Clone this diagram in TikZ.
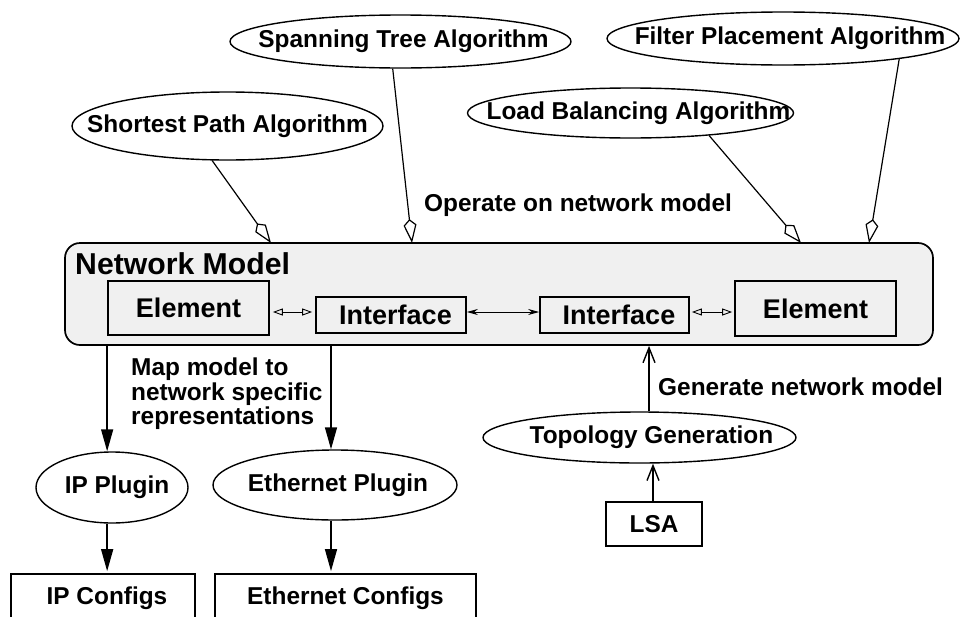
\documentclass[tikz,border=0pt]{standalone}
\usepackage{fontspec}
\setmainfont{Liberation Sans}
\usetikzlibrary{arrows.meta,shapes.geometric}
% text of zero width, so the ellipse is sized only by its minimum size;
% the optional kern shifts the text to the right by half its value
\newcommand\zw[2][0pt]{\makebox[0pt]{\kern#1\relax #2}}
\begin{document}
\begin{tikzpicture}[x=1pt,y=-1pt,
  txt/.style={font=\fontsize{24.4}{24.5}\selectfont\bfseries, inner sep=0pt},
  algo/.style={ellipse, draw, line width=1.4pt, fill=white, txt},
  box/.style={rectangle, draw, line width=1.7pt, txt},
  part/.style={rectangle, draw, line width=1.7pt, inner sep=0pt,
    font=\fontsize{27}{27}\selectfont\bfseries},
  model/.style={rectangle, draw, line width=1.7pt, rounded corners=15pt,
    fill=black!6, minimum width=868, minimum height=102},
  title/.style={font=\fontsize{30.2}{30}\selectfont\bfseries, inner sep=0pt},
  diam/.style={line width=1.2pt, -{Kite[open, length=24pt, width=13pt, inset=6pt, line width=1.2pt]}},
  hollow/.style={line width=0.9pt,
    {Triangle[open, length=10pt, width=7pt]}-{Triangle[open, length=10pt, width=7pt]}},
  solid/.style={line width=1pt,
    {Stealth[length=11pt, width=6pt]}-{Stealth[length=11pt, width=6pt]}},
  down/.style={line width=1.4pt, -{Triangle[length=22pt, width=12pt]}},
  up/.style={line width=1.4pt, -{Straight Barb[length=15pt, width=12pt, line width=1.4pt]}},
]
\useasboundingbox (0,0) rectangle (966,616);
\clip (0,0) rectangle (966,616);

% network model container with its parts
\node[model] (nm) at (499,294) {};
\node[title, anchor=base west] (nmt) at (75,274) {Network Model};
\node[part, minimum width=161, minimum height=54] (el1) at (188.5,308) {Element};
\node[part, minimum width=150, minimum height=36] (if1) at (391,315) {\kern9pt Interface};
\node[part, minimum width=149, minimum height=36] (if2) at (614.5,315) {\kern9pt Interface};
\node[part, minimum width=161, minimum height=55] (el2) at (815.5,308.5) {Element};

% algorithms
\node[algo, minimum width=311, minimum height=68] (sp) at (227.5,126) {\zw{Shortest Path Algorithm}};
\node[algo, minimum width=341, minimum height=53] (st) at (400.5,41.5) {\zw[6pt]{Spanning Tree Algorithm}};
\node[algo, minimum width=326, minimum height=50] (lb) at (630.5,113) {\zw[16pt]{Load Balancing Algorithm}};
\node[algo, minimum width=352, minimum height=53] (fp) at (783,38.5) {\zw[14pt]{Filter Placement Algorithm}};

\node[txt, anchor=base west] (op) at (424,211) {Operate on network model};

% plugins and configurations
\node[algo, minimum width=152, minimum height=71] (ip) at (112,487.5) {\zw[10pt]{IP Plugin}};
\node[algo, minimum width=244, minimum height=70] (eth) at (335,485) {\zw[6pt]{Ethernet Plugin}};
\node[box, minimum width=184, minimum height=48] (ipc) at (103,598) {\zw[8pt]{IP Configs}};
\node[box, minimum width=261, minimum height=48] (ethc) at (345.5,598) {Ethernet Configs};
\node[txt, anchor=north west, align=left] (map) at (131,358)
  {Map model to\\network specific\\representations};

% topology generation
\node[algo, minimum width=313, minimum height=51] (topo) at (639.5,437.5) {\zw[24pt]{Topology Generation}};
\node[box, minimum width=96, minimum height=44] (lsa) at (654,524) {LSA};
\node[txt, anchor=base west] (gen) at (658,395) {Generate network model};

% algorithms operate on the model
\coordinate (a1) at (271,243);
\coordinate (a2) at (412,243);
\coordinate (a3) at (801,243);
\coordinate (a4) at (869,243);
\draw[diam] (sp.-114) -- (a1);
\draw[diam] (st.-106) -- (a2);
\draw[diam] (lb.-16) -- (a3);
\draw[diam] (fp.-10) -- (a4);

% links inside the model
\coordinate (r1) at ([yshift=3pt]if1.west);
\coordinate (r2) at ([yshift=3pt]if2.east);
\draw[hollow, shorten <=3pt, shorten >=3pt] (el1.east |- r1) -- (r1);
\draw[solid] ([yshift=3pt]if1.east) -- ([yshift=3pt]if2.west);
\draw[hollow, shorten <=2pt, shorten >=2pt] (r2) -- (el2.west |- r2);

% mapping to network specific representations
\coordinate (dx1) at (el1.south west);
\coordinate (dx2) at (331,0);
\draw[down] (dx1 |- nm.south) -- (dx1 |- ip.north);
\draw[down] (dx2 |- nm.south) -- (dx2 |- eth.north);
\draw[down, shorten >=2pt] (ip.south -| dx1) -- (ipc.north -| dx1);
\draw[down, shorten >=2pt] (eth.south -| dx2) -- (ethc.north -| dx2);

% generating the model
\coordinate (ux1) at (649,0);
\coordinate (ux2) at (653,0);
\draw[up] (ux1 |- topo.north) -- (ux1 |- nm.south);
\draw[up] (ux2 |- lsa.north) -- (ux2 |- topo.south);
\end{tikzpicture}
\end{document}
